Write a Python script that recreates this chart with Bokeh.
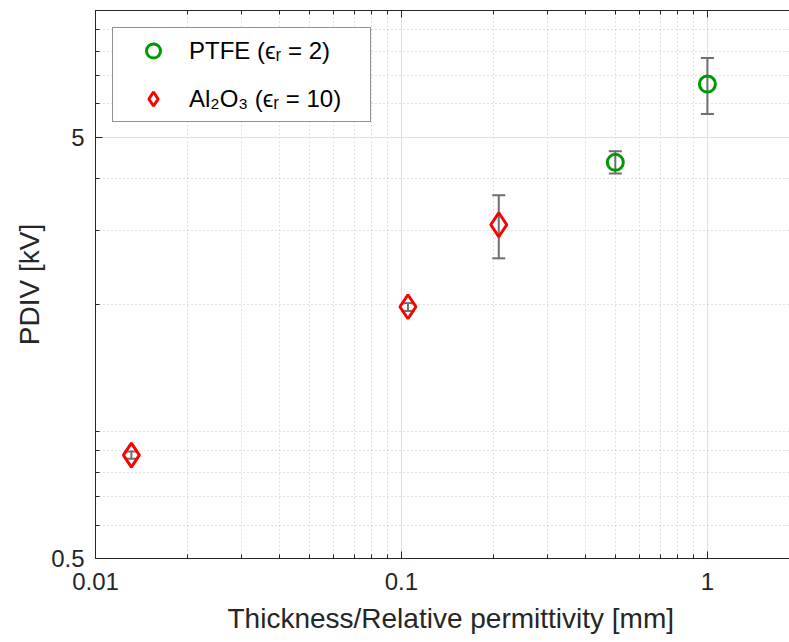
from bokeh.plotting import figure
from bokeh.models import (ColumnDataSource, FixedTicker, LogAxis, Whisker, TeeHead,
                          Legend, LegendItem, CustomJSTickFormatter, Title)
from bokeh.embed import file_html
from bokeh.resources import INLINE

# ---- data ----
ptfe_x = [0.5, 1.0]
ptfe_y = [4.36, 6.69]
ptfe_lo = [4.10, 5.68]
ptfe_hi = [4.63, 7.71]

al_x = [0.0131, 0.105, 0.208]
al_y = [0.88, 1.98, 3.10]
al_lo = [0.863, 1.935, 2.58]
al_hi = [0.897, 2.02, 3.64]

x_ticks = [0.01, 0.1, 1]
x_tick_labels = ["0.01", "0.1", "1"]
x_minor = [0.02, 0.03, 0.04, 0.05, 0.06, 0.07, 0.08, 0.09,
           0.2, 0.3, 0.4, 0.5, 0.6, 0.7, 0.8, 0.9]
y_ticks = [0.5, 5]
y_tick_labels = ["0.5", "5"]
y_minor = [0.6, 0.7, 0.8, 0.9, 1, 2, 3, 4, 6, 7, 8, 9, 10]

ptfe_label = "PTFE (ϵᵣ = 2)"
al_label = "Al₂O₃ (ϵᵣ = 10)"
x_label = "Thickness/Relative permittivity [mm]"
y_label = "PDIV [kV]"

FONT = "Liberation Sans"
INK = "#262626"
GREEN = "#009900"
RED = "#ff0000"
BAR = "#6e6e6e"

p = figure(width=789, height=642, x_axis_type="log", y_axis_type="log",
           x_range=(0.01, 1.855), y_range=(0.5, 10), title=None,
           output_backend="svg", toolbar_location=None,
           min_border_left=95, min_border_right=0, min_border_top=10,
           min_border_bottom=84, background_fill_color="white",
           border_fill_color="white", outline_line_color=None)

fmt_code = """
for (let i = 0; i < tvals.length; i++) {
  if (Math.abs(tvals[i] - tick) <= 1e-9 * Math.abs(tvals[i])) return tlabels[i];
}
return '';
"""

def style_axis(ax, ticks, minor, labels):
    ax.ticker = FixedTicker(ticks=ticks, minor_ticks=minor)
    ax.formatter = CustomJSTickFormatter(args=dict(tvals=ticks, tlabels=labels), code=fmt_code)
    ax.axis_label_text_font = FONT
    ax.axis_label_text_font_size = "28px"
    ax.axis_label_text_font_style = "normal"
    ax.axis_label_text_color = INK
    ax.major_label_text_font = FONT
    ax.major_label_text_font_size = "24px"
    ax.major_label_text_color = INK
    ax.axis_line_color = INK
    ax.major_tick_line_color = INK
    ax.minor_tick_line_color = INK
    ax.major_tick_in = 7
    ax.major_tick_out = 0
    ax.minor_tick_in = 4
    ax.minor_tick_out = 0

style_axis(p.xaxis[0], x_ticks, x_minor, x_tick_labels)
style_axis(p.yaxis[0], y_ticks, y_minor, y_tick_labels)
p.xaxis[0].major_label_standoff = 14
p.yaxis[0].major_label_standoff = 11
p.yaxis[0].axis_label = y_label
p.yaxis[0].axis_label_standoff = 3

# x-axis title in the lower margin
p.add_layout(Title(text=x_label, align="left", offset=132, standoff=16,
                   text_font=FONT, text_font_size="28px", text_font_style="normal",
                   text_color=INK), "below")

top = LogAxis(ticker=FixedTicker(ticks=x_ticks, minor_ticks=x_minor),
              major_label_text_font_size="1px", major_label_text_color=None,
              major_label_standoff=0, axis_label_standoff=0,
              axis_line_color=INK, major_tick_line_color=INK, minor_tick_line_color=INK,
              major_tick_in=7, major_tick_out=0, minor_tick_in=4, minor_tick_out=0)
p.add_layout(top, "above")

for g in (p.xgrid[0], p.ygrid[0]):
    g.grid_line_color = "#e0e0e0"
    g.grid_line_width = 1
    g.minor_grid_line_color = "#c4c4c4"
    g.minor_grid_line_dash = "1 3"
    g.minor_grid_line_width = 1

src_p = ColumnDataSource(dict(x=ptfe_x, y=ptfe_y, lo=ptfe_lo, hi=ptfe_hi))
src_a = ColumnDataSource(dict(x=al_x, y=al_y, lo=al_lo, hi=al_hi))

for src in (src_p, src_a):
    w = Whisker(source=src, base="x", upper="hi", lower="lo",
                line_color=BAR, line_width=2,
                upper_head=TeeHead(size=13, line_color=BAR, line_width=2),
                lower_head=TeeHead(size=13, line_color=BAR, line_width=2))
    p.add_layout(w)

r1 = p.scatter("x", "y", source=src_p, marker="circle", size=16,
               line_color=GREEN, line_width=3, fill_color=None)
r2 = p.scatter("x", "y", source=src_a, marker="diamond", size=24,
               line_color=RED, line_width=3, fill_color=None)

legend = Legend(items=[LegendItem(label=ptfe_label, renderers=[r1]),
                       LegendItem(label=al_label, renderers=[r2])],
                location="top_left", margin=17, padding=5,
                glyph_width=70, glyph_height=35, label_height=35,
                label_width=176, label_standoff=1, spacing=13,
                label_text_font=FONT, label_text_font_size="24px",
                label_text_color="black",
                border_line_color=INK, border_line_width=1,
                background_fill_color="white", background_fill_alpha=1.0)
p.add_layout(legend)

open("out.html", "w").write(file_html(p, INLINE))
